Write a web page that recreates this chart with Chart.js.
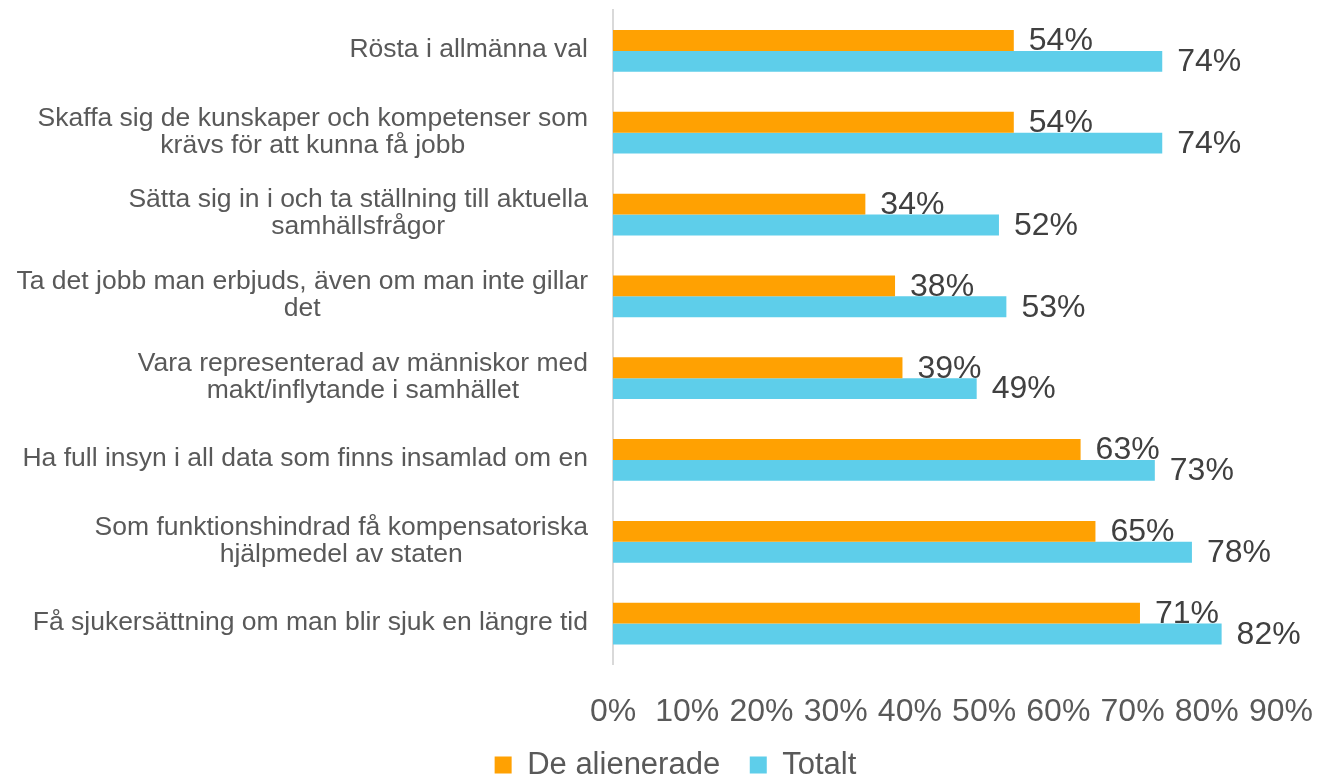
<!DOCTYPE html>
<html>
<head>
<meta charset="utf-8">
<script src="https://cdn.jsdelivr.net/npm/chart.js@4"></script>
<style>
  html, body { margin: 0; padding: 0; background: #fff; }
  #wrap { width: 1317px; height: 779px; position: relative; }
</style>
</head>
<body>
<div id="wrap"><canvas id="barChart"></canvas></div>
<script>
// Kategorier (flerradiga etiketter som i originalet)
const categories = [
    ['Rösta i allmänna val'],
    ['Skaffa sig de kunskaper och kompetenser som', 'krävs för att kunna få jobb'],
    ['Sätta sig in i och ta ställning till aktuella', 'samhällsfrågor'],
    ['Ta det jobb man erbjuds, även om man inte gillar', 'det'],
    ['Vara representerad av människor med', 'makt/inflytande i samhället'],
    ['Ha full insyn i all data som finns insamlad om en'],
    ['Som funktionshindrad få kompensatoriska', 'hjälpmedel av staten'],
    ['Få sjukersättning om man blir sjuk en längre tid']
];
const alienerade = [54, 54, 34, 38, 39, 63, 65, 71];
const totalt = [74, 74, 52, 53, 49, 73, 78, 82];
const xTicks = [0, 10, 20, 30, 40, 50, 60, 70, 80, 90];

const FONT = '"Liberation Sans", Arial, sans-serif';

// Etiketter på y-axeln: blocket högerställt mot axeln, raderna centrerade
const yLabelPlugin = {
    id: 'yLabels',
    afterDraw(chart) {
        const ctx = chart.ctx;
        const y = chart.scales.y;
        const right = chart.chartArea.left - 25;
        ctx.save();
        ctx.font = '26.5px ' + FONT;
        ctx.fillStyle = '#595959';
        ctx.textBaseline = 'middle';
        ctx.textAlign = 'center';
        const lh = 27;
        categories.forEach((lines, i) => {
            const cy = y.getPixelForTick(i) - 1;
            const w = Math.max(...lines.map(l => ctx.measureText(l).width));
            const cx = right - w / 2;
            const top = cy - (lines.length - 1) * lh / 2;
            lines.forEach((l, j) => ctx.fillText(l, cx, top + j * lh));
        });
        ctx.restore();
    }
};

// Värdeetiketter vid staplarnas slut
const valueLabelPlugin = {
    id: 'valueLabels',
    afterDatasetsDraw(chart) {
        const ctx = chart.ctx;
        ctx.save();
        ctx.font = '32px ' + FONT;
        ctx.fillStyle = '#404040';
        ctx.textBaseline = 'middle';
        ctx.textAlign = 'left';
        chart.data.datasets.forEach((ds, di) => {
            chart.getDatasetMeta(di).data.forEach((bar, i) => {
                ctx.fillText(ds.data[i] + '%', bar.x + 15, bar.y + 1);
            });
        });
        ctx.restore();
    }
};

new Chart(document.getElementById('barChart'), {
    type: 'bar',
    data: {
        labels: categories,
        datasets: [{
            label: 'De alienerade',
            data: alienerade,
            backgroundColor: '#FFA102'
        }, {
            label: 'Totalt',
            data: totalt,
            backgroundColor: '#5ECEEA'
        }]
    },
    options: {
        indexAxis: 'y',
        responsive: true,
        maintainAspectRatio: false,
        animation: false,
        categoryPercentage: 0.51,
        barPercentage: 1,
        layout: { padding: { top: 10, right: 36, bottom: -11.5, left: 70 } },
        scales: {
            x: {
                min: 0,
                max: 90,
                afterBuildTicks: scale => { scale.ticks = xTicks.map(v => ({ value: v })); },
                afterFit: scale => {
                    scale.paddingRight = 0;
                    scale.paddingLeft = 0;
                    scale.height = 64;
                },
                grid: { display: false, drawTicks: false },
                border: { display: false },
                ticks: {
                    padding: 28,
                    color: '#595959',
                    font: { size: 32, family: FONT },
                    callback: v => v + '%'
                }
            },
            y: {
                grid: { display: false, drawTicks: false },
                border: { display: true, color: '#D9D9D9', width: 2 },
                ticks: { display: false },
                afterFit: scale => { scale.width = 543; }
            }
        },
        plugins: {
            legend: {
                position: 'bottom',
                labels: {
                    color: '#595959',
                    font: { size: 31, family: FONT },
                    boxWidth: 17,
                    boxHeight: 17,
                    padding: 21,
                    generateLabels: chart => {
                        const items = Chart.defaults.plugins.legend.labels.generateLabels(chart);
                        items[0].text += ' ';
                        return items;
                    }
                }
            },
            tooltip: { enabled: false }
        }
    },
    plugins: [yLabelPlugin, valueLabelPlugin]
});
</script>
</body>
</html>
